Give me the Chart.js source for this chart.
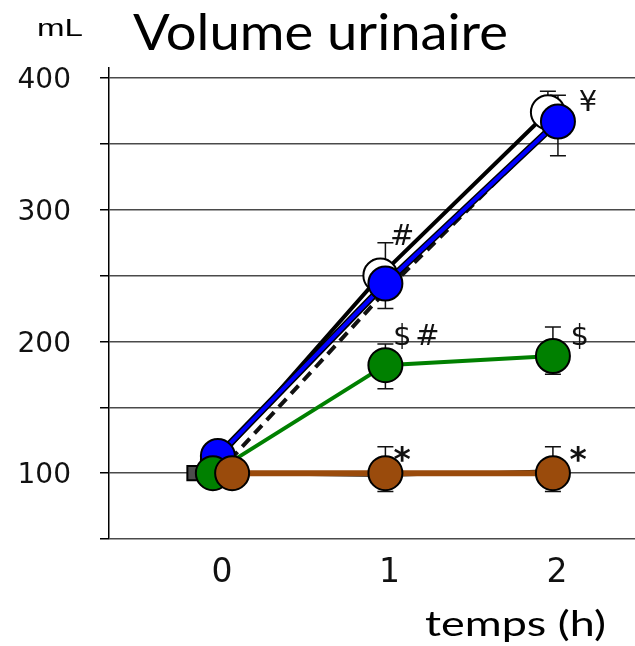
<!DOCTYPE html>
<html>
<head>
<meta charset="utf-8">
<script src="https://cdn.jsdelivr.net/npm/chart.js@4.4.1/dist/chart.umd.min.js"></script>
<style>
  html, body { margin: 0; padding: 0; background: #fff; overflow: hidden; }
  #chart { display: block; width: 635px; height: 646px; }
</style>
</head>
<body>
<canvas id="chart" width="635" height="646"></canvas>
<script>
const X_TICKS = [0, 1, 2];
const Y_TICKS = [50, 100, 150, 200, 250, 300, 350, 400];
const Y_LABELS = [100, 200, 300, 400];

// cercles blancs, trait noir plein
const openX = [0, 0.97, 1.97];
const openY = [110, 250, 374];
const openHi = [0, 12, 16];
const openLo = [0, 0, 0];

// trait noir pointillé
const dashX = [0, 1, 2];
const dashY = [100, 238, 364];

// bleu
const blueX = [0, 1, 2.03];
const blueY = [113, 244, 367];
const blueHi = [4, 31, 20];
const blueLo = [4, 19, 26];

// vert
const greenX = [-0.03, 1, 2];
const greenY = [100, 182, 189];
const greenHi = [4, 16, 22];
const greenLo = [4, 18, 14];

// carré noir, trait fin
const squareX = [-0.14, 1, 2];
const squareY = [100, 98, 102];

// marron
const brownX = [0.085, 1, 2];
const brownY = [100, 100, 100];
const brownHi = [3, 20, 20];
const brownLo = [3, 14, 14];

// symboles de significativité
const NOTES = [
  { text: '#', x: 1.10, y: 279 },
  { text: '¥', x: 2.21, y: 381 },
  { text: '$', x: 1.10, y: 203 },
  { text: '#', x: 1.25, y: 203 },
  { text: '$', x: 2.16, y: 203 },
  { text: '*', x: 1.10, y: 108, bold: true },
  { text: '*', x: 2.15, y: 108, bold: true }
];

const $ = (id) => document.getElementById(id);

function pts(xs, ys) {
  return xs.map((x, i) => ({ x, y: ys[i] }));
}

function fitText(ctx, text, x, y, width) {
  const w = ctx.measureText(text).width;
  ctx.save();
  ctx.translate(x, y);
  ctx.scale(width / w, 1);
  ctx.fillText(text, 0, 0);
  ctx.restore();
}

const errorBars = {
  id: 'errorBars',
  beforeDatasetsDraw(chart) {
    const { ctx, scales: { x, y } } = chart;
    ctx.save();
    ctx.strokeStyle = '#111';
    ctx.lineWidth = 1.5;
    chart.data.datasets.forEach(ds => {
      if (!ds.errHi) return;
      ds.data.forEach((p, i) => {
        const px = x.getPixelForValue(p.x);
        const top = y.getPixelForValue(p.y + ds.errHi[i]);
        const bot = y.getPixelForValue(p.y - ds.errLo[i]);
        ctx.beginPath();
        ctx.moveTo(px, top); ctx.lineTo(px, bot);
        if (ds.errHi[i]) { ctx.moveTo(px - 8, top); ctx.lineTo(px + 8, top); }
        if (ds.errLo[i]) { ctx.moveTo(px - 8, bot); ctx.lineTo(px + 8, bot); }
        ctx.stroke();
      });
    });
    ctx.restore();
  }
};

const notes = {
  id: 'notes',
  afterDatasetsDraw(chart) {
    const { ctx, scales: { x, y } } = chart;
    ctx.save();
    ctx.fillStyle = '#111';
    ctx.textAlign = 'center';
    ctx.textBaseline = 'middle';
    NOTES.forEach(n => {
      ctx.font = n.bold ? 'bold 33px "DejaVu Sans"' : '29px "DejaVu Sans"';
      ctx.fillText(n.text, x.getPixelForValue(n.x), y.getPixelForValue(n.y));
    });
    ctx.restore();
  }
};

const titles = {
  id: 'titles',
  afterDraw(chart) {
    const ctx = chart.ctx;
    ctx.save();
    ctx.fillStyle = '#000';
    ctx.textAlign = 'left';
    ctx.textBaseline = 'alphabetic';
    ctx.font = '23px "Liberation Sans"';
    fitText(ctx, 'mL', 37, 36, 46);
    ctx.font = '51px Lato';
    fitText(ctx, 'Volume urinaire', 133, 50, 375);
    ctx.font = '35px Lato';
    fitText(ctx, 'temps (h)', 425, 636, 181);
    ctx.restore();
  }
};

new Chart($('chart'), {
  type: 'line',
  data: {
    datasets: [
      {
        data: pts(brownX, brownY), errHi: brownHi, errLo: brownLo,
        borderColor: '#9a4b0c', borderWidth: 6,
        pointRadius: 17, pointBackgroundColor: '#9a4b0c', pointBorderColor: '#000', pointBorderWidth: 2,
        order: 1
      },
      {
        data: pts(greenX, greenY), errHi: greenHi, errLo: greenLo,
        borderColor: '#008000', borderWidth: 4,
        pointRadius: 17, pointBackgroundColor: '#008000', pointBorderColor: '#000', pointBorderWidth: 2,
        order: 2
      },
      {
        data: pts(blueX, blueY), errHi: blueHi, errLo: blueLo,
        borderColor: '#0000ff', borderWidth: 4,
        pointRadius: 17, pointBackgroundColor: '#0000ff', pointBorderColor: '#000', pointBorderWidth: 2,
        order: 3
      },
      {
        data: pts(blueX, blueY),
        borderColor: '#000', borderWidth: 7, pointRadius: 0,
        order: 4
      },
      {
        data: pts(openX, openY), errHi: openHi, errLo: openLo,
        borderColor: '#000', borderWidth: 4,
        pointRadius: 17, pointBackgroundColor: '#fff', pointBorderColor: '#000', pointBorderWidth: 2,
        order: 5
      },
      {
        data: pts(dashX, dashY),
        borderColor: '#111', borderWidth: 4, borderDash: [11, 7], pointRadius: 0,
        order: 6
      },
      {
        data: pts(squareX, squareY),
        borderColor: '#111', borderWidth: 2.5,
        pointStyle: 'rect', pointRadius: 10, pointBackgroundColor: '#4d4d4d', pointBorderColor: '#000', pointBorderWidth: 2,
        order: 7
      }
    ]
  },
  options: {
    responsive: false,
    animation: false,
    clip: false,
    layout: { autoPadding: false, padding: { left: 18, top: 68, right: 0, bottom: 53 } },
    plugins: { legend: { display: false }, tooltip: { enabled: false } },
    elements: { line: { tension: 0 } },
    scales: {
      x: {
        type: 'linear', min: -0.65, max: 2.49,
        afterBuildTicks: s => { s.ticks = X_TICKS.map(v => ({ value: v })); },
        afterFit: s => { s.height = 54; s.paddingLeft = 0; s.paddingRight = 0; },
        grid: { display: false, drawTicks: false },
        border: { display: false },
        ticks: { font: { family: 'DejaVu Sans', size: 33 }, color: '#111', padding: 15, labelOffset: 4, maxRotation: 0, autoSkip: false }
      },
      y: {
        type: 'linear', min: 50, max: 407.6,
        afterBuildTicks: s => { s.ticks = Y_TICKS.map(v => ({ value: v })); },
        afterFit: s => { s.width = 91; s.paddingTop = 0; s.paddingBottom = 0; },
        grid: { color: '#4a4a4a', lineWidth: 1.5, tickLength: 9, tickColor: '#000' },
        border: { color: '#000', width: 1.5 },
        ticks: {
          font: { family: 'DejaVu Sans', size: 28 }, color: '#111', padding: 29, autoSkip: false, labelOffset: 3,
          callback: v => Y_LABELS.includes(v) ? String(v) : ''
        }
      }
    }
  },
  plugins: [errorBars, notes, titles]
});
</script>
</body>
</html>
